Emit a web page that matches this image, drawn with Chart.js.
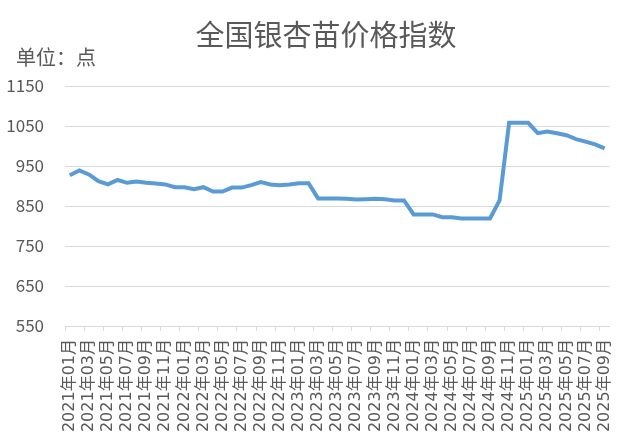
<!DOCTYPE html>
<html>
<head>
<meta charset="utf-8">
<script src="https://cdn.jsdelivr.net/npm/chart.js@4/dist/chart.umd.min.js"></script>
<style>
  html, body { margin: 0; padding: 0; background: #fff; }
  #wrap { width: 632px; height: 444px; position: relative; }
</style>
</head>
<body>
<div id="wrap"><canvas id="c"></canvas></div>
<script>
// ===== 資料 =====
const chartTitle = "全国银杏苗价格指数";
const unitText = "单位：点";

const months = [
  "2021年01月", "2021年02月", "2021年03月", "2021年04月", "2021年05月", "2021年06月",
  "2021年07月", "2021年08月", "2021年09月", "2021年10月", "2021年11月", "2021年12月",
  "2022年01月", "2022年02月", "2022年03月", "2022年04月", "2022年05月", "2022年06月",
  "2022年07月", "2022年08月", "2022年09月", "2022年10月", "2022年11月", "2022年12月",
  "2023年01月", "2023年02月", "2023年03月", "2023年04月", "2023年05月", "2023年06月",
  "2023年07月", "2023年08月", "2023年09月", "2023年10月", "2023年11月", "2023年12月",
  "2024年01月", "2024年02月", "2024年03月", "2024年04月", "2024年05月", "2024年06月",
  "2024年07月", "2024年08月", "2024年09月", "2024年10月", "2024年11月", "2024年12月",
  "2025年01月", "2025年02月", "2025年03月", "2025年04月", "2025年05月", "2025年06月",
  "2025年07月", "2025年08月", "2025年09月"
];

const priceIndex = [
  927, 939, 929, 912, 904, 915, 908, 911, 908, 906, 904, 897,
  897, 892, 897, 886, 886, 896, 896, 902, 910, 904, 902, 904,
  907, 907, 869, 869, 869, 868, 866, 867, 868, 867, 864, 864,
  829, 829, 829, 822, 822, 819, 819, 819, 819, 864, 1058, 1058,
  1058, 1032, 1036, 1032, 1027, 1017, 1011, 1004, 994
];

const yTicks = [550, 650, 750, 850, 950, 1050, 1150];

const textColor = "#595959";
const gridColor = "#d9d9d9";
const fontFamily = '"Noto Sans CJK SC", "Noto Sans", sans-serif';
const xFontFamily = '"DejaVu Sans", "Noto Sans CJK SC", sans-serif';

// ===== 標題與單位 =====
const headerPlugin = {
  id: "header",
  afterDraw(chart) {
    const c = chart.ctx;
    c.save();
    c.fillStyle = textColor;
    c.textBaseline = "middle";
    c.font = "29px " + fontFamily;
    c.textAlign = "center";
    c.fillText(chartTitle, 326, 35);
    c.font = "20px " + fontFamily;
    c.textAlign = "left";
    c.fillText(unitText, 16, 57);
    c.restore();
  }
};

const ctx = document.getElementById("c").getContext("2d");
new Chart(ctx, {
  type: "line",
  data: {
    labels: months,
    datasets: [{
      data: priceIndex,
      borderColor: "#5b9bd5",
      borderWidth: 4,
      pointRadius: 0,
      tension: 0,
      fill: false
    }]
  },
  options: {
    responsive: true,
    maintainAspectRatio: false,
    animation: false,
    layout: { padding: { top: 86, right: 20, bottom: 0, left: 0 } },
    plugins: {
      legend: { display: false },
      title: { display: false },
      tooltip: { enabled: false }
    },
    scales: {
      x: {
        offset: true,
        afterFit(scale) { scale.height = 118; },
        border: { display: true, color: gridColor, width: 1 },
        grid: {
          offset: true,
          drawOnChartArea: false,
          drawTicks: true,
          tickLength: 5,
          color: (c) => (c.index % 2 === 0 ? gridColor : "rgba(0,0,0,0)")
        },
        ticks: {
          autoSkip: false,
          minRotation: 90,
          maxRotation: 90,
          padding: 8,
          color: textColor,
          font: { family: xFontFamily, size: 16 },
          callback: (v, i) => (i % 2 === 0 ? months[i] : "")
        }
      },
      y: {
        min: 550,
        max: 1150,
        afterFit(scale) { scale.width = 65; },
        afterBuildTicks(scale) { scale.ticks = yTicks.map(v => ({ value: v })); },
        border: { display: false },
        grid: { color: gridColor, lineWidth: 1, drawTicks: false },
        ticks: {
          padding: 21,
          color: textColor,
          font: { family: fontFamily, size: 17 },
          callback: (v) => String(v)
        }
      }
    }
  },
  plugins: [headerPlugin]
});
</script>
</body>
</html>
